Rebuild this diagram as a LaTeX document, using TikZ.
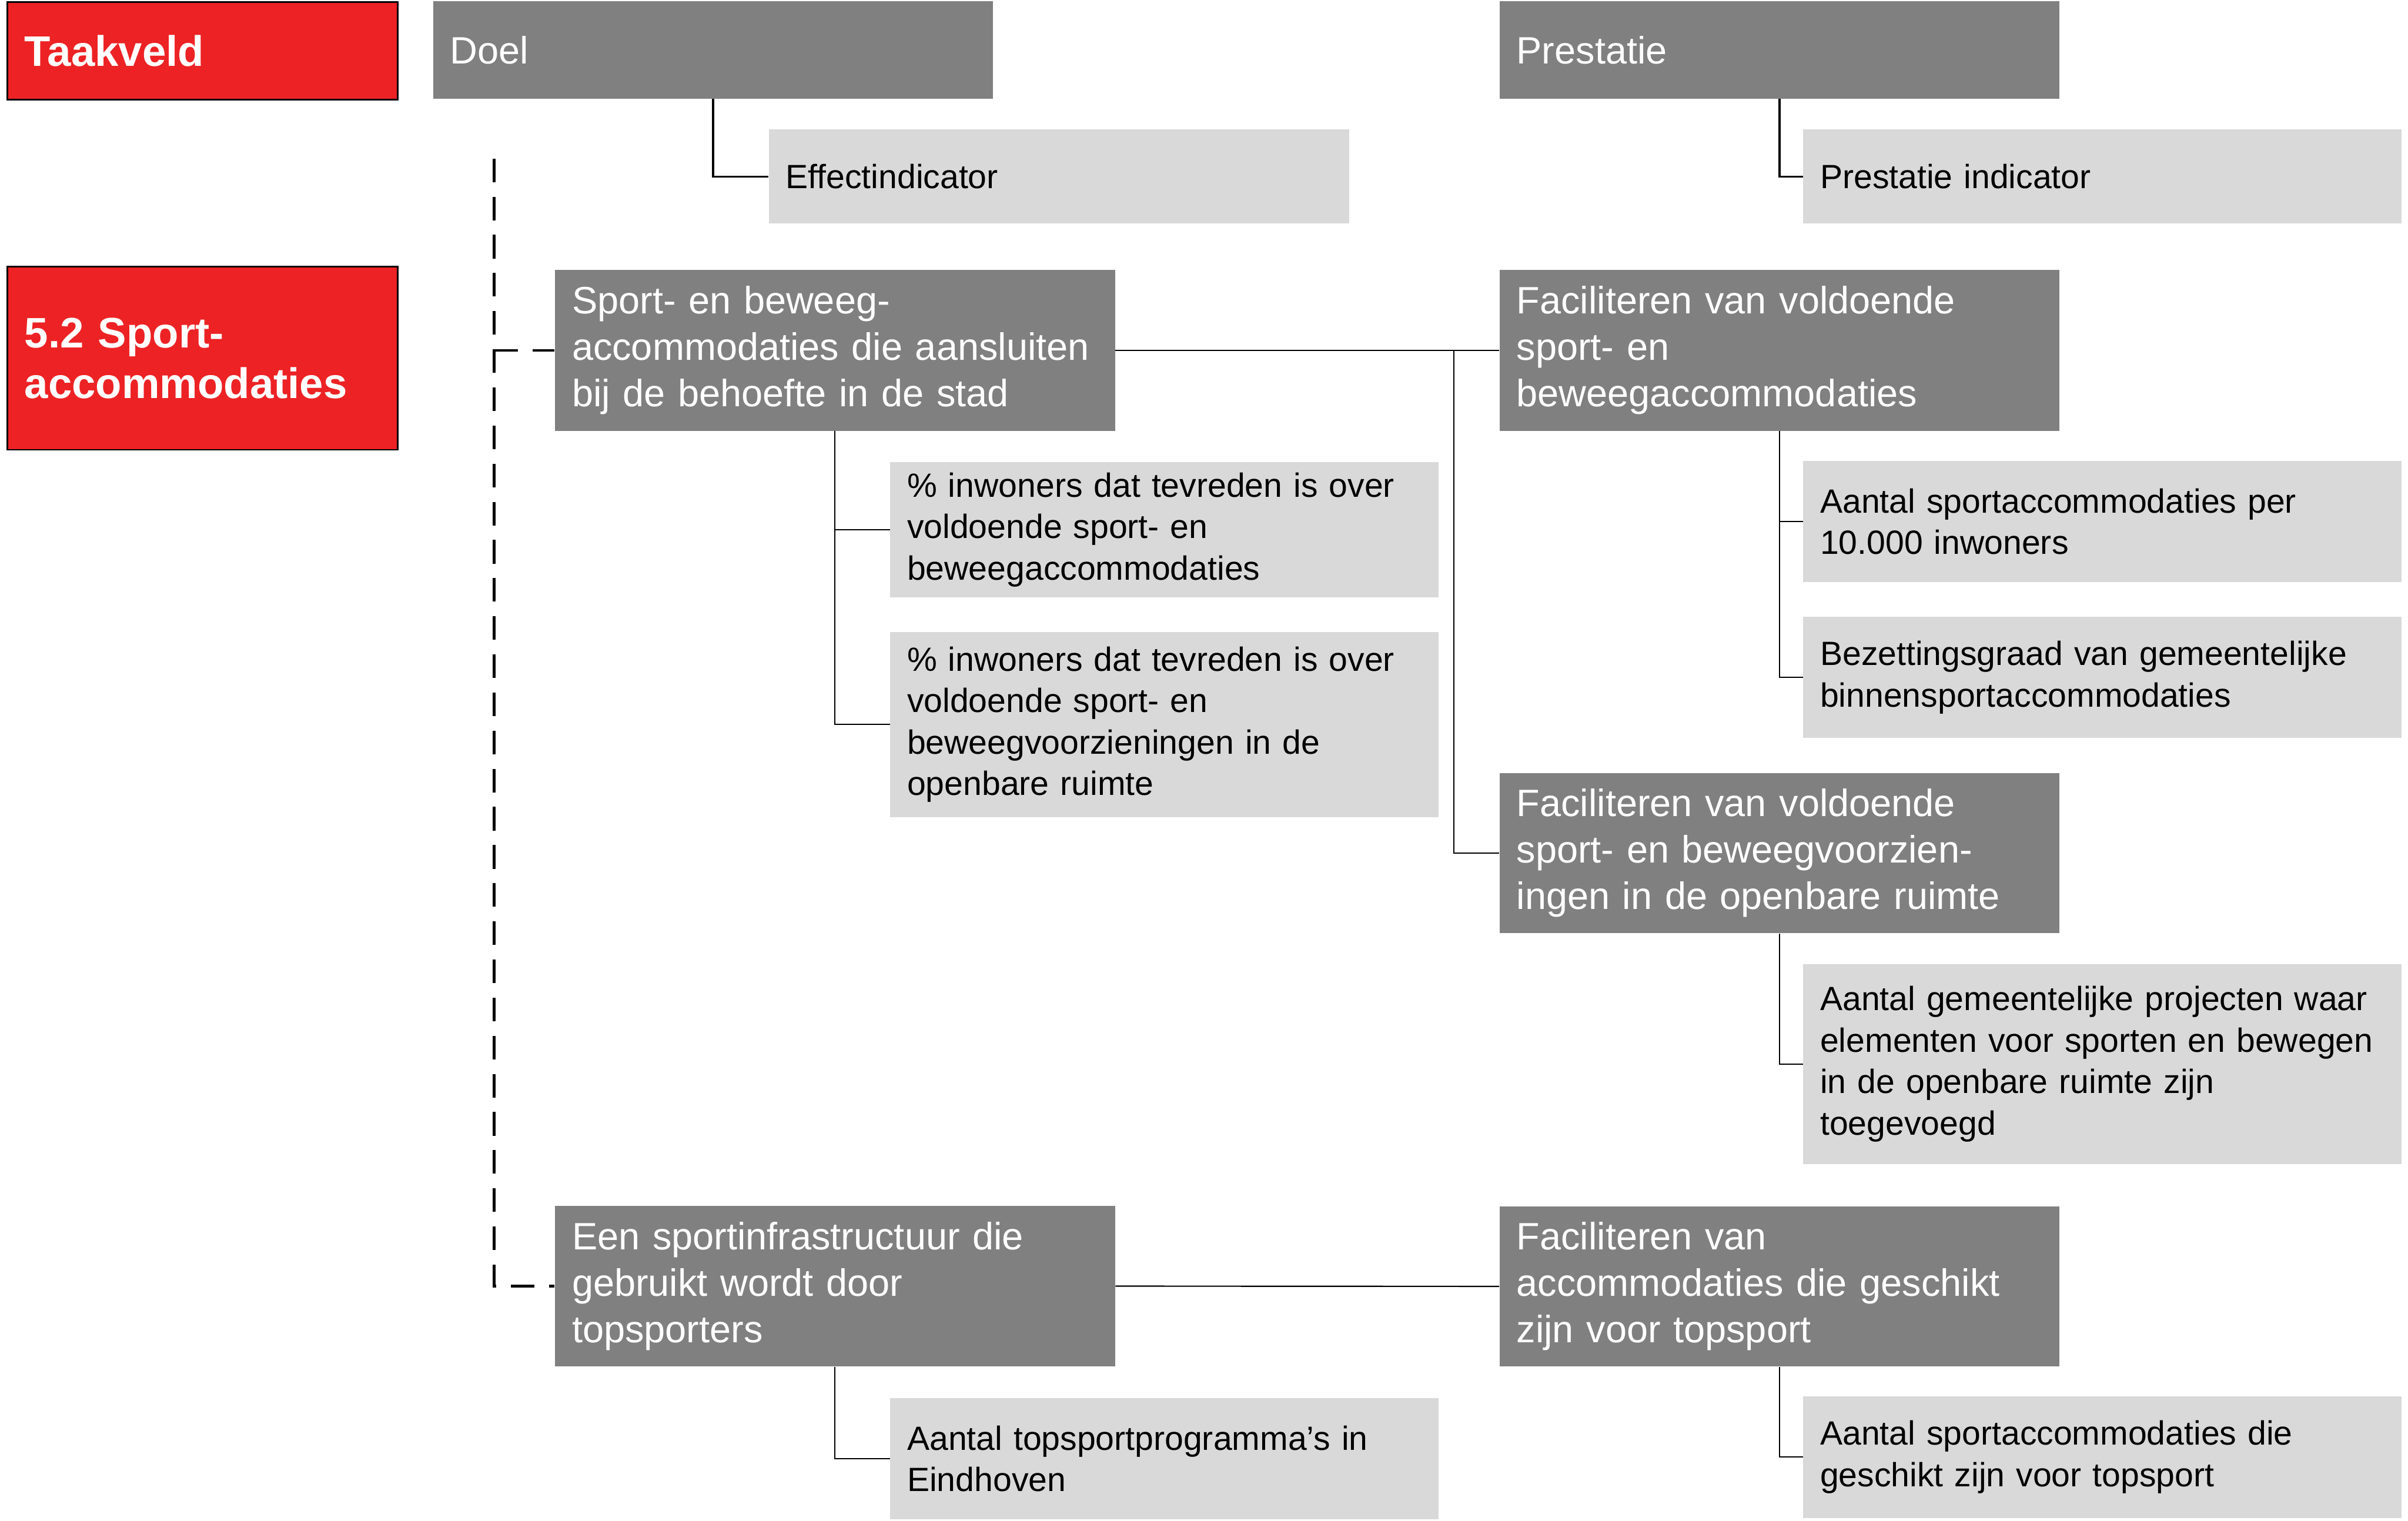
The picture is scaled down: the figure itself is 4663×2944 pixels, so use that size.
\documentclass[tikz,border=0pt]{standalone}
\usepackage{fontspec}
\setmainfont{Liberation Sans}
\definecolor{tvred}{HTML}{ED2224}
\definecolor{doelgrey}{HTML}{808080}
\definecolor{indgrey}{HTML}{D9D9D9}

\begin{document}
\begin{tikzpicture}[x=0.01cm, y=-0.01cm,
  tag/.style={draw=black, line width=0.9pt, fill=tvred, text=white, anchor=north west,
              align=left, inner xsep=0.33cm, text width=6.89cm,
              font=\fontsize{23.5}{28}\selectfont\bfseries},
  goal/.style={fill=doelgrey, text=white, anchor=north west, align=left,
               inner xsep=0.33cm, text width=10.18cm, font=\fontsize{21}{25.6}\selectfont},
  ind/.style={fill=indgrey, text=black, anchor=north west, align=left,
              inner xsep=0.33cm, text width=9.95cm, font=\fontsize{18.5}{22.8}\selectfont},
  pind/.style={ind, text width=10.92cm},
  link/.style={line width=0.7pt},
  toplink/.style={line width=1.1pt},
  dashlink/.style={line width=1.4pt, dash pattern=on 13pt off 8pt}]
  \useasboundingbox (0,0) rectangle (4663,2944);

  \node[tag, minimum height=1.89cm] (tv) at (13,2) {Taakveld};
  \node[tag, minimum height=3.54cm] (sa) at (13,515) {5.2 Sport-\\accommodaties};

  \node[goal, minimum height=1.88cm] (doel) at (838,2) {Doel};
  \node[goal, minimum height=1.88cm] (prest) at (2903,2) {Prestatie};
  \node[ind, text width=10.57cm, minimum height=1.82cm] (effind) at (1488,250) {Effectindicator};
  \node[pind, minimum height=1.82cm] (presind) at (3491,250) {Prestatie indicator};

  \node[goal, minimum height=3.11cm] (goal1) at (1074,522)
    {Sport- en beweeg-\\accommodaties die aansluiten\\bij de behoefte in de stad};
  \node[ind, minimum height=2.62cm] (ind1) at (1723,894)
    {\% inwoners dat tevreden is over\\voldoende sport- en\\beweegaccommodaties};
  \node[ind, minimum height=3.58cm] (ind2) at (1723,1223)
    {\% inwoners dat tevreden is over\\voldoende sport- en\\beweegvoorzieningen in de\\openbare ruimte};

  \node[goal, minimum height=3.11cm] (fac1) at (2903,522)
    {Faciliteren van voldoende\\sport- en\\beweegaccommodaties};
  \node[pind, minimum height=2.34cm] (pind1) at (3491,892)
    {Aantal sportaccommodaties per\\10.000 inwoners};
  \node[pind, minimum height=2.34cm] (pind2) at (3491,1194)
    {Bezettingsgraad van gemeentelijke\\binnensportaccommodaties};

  \node[goal, minimum height=3.10cm] (fac2) at (2903,1496)
    {Faciliteren van voldoende\\sport- en beweegvoorzien-\\ingen in de openbare ruimte};
  \node[pind, minimum height=3.87cm] (pind3) at (3491,1866)
    {Aantal gemeentelijke projecten waar\\elementen voor sporten en bewegen\\in de openbare ruimte zijn\\toegevoegd};

  \node[goal, minimum height=3.11cm] (goal2) at (1074,2334)
    {Een sportinfrastructuur die\\gebruikt wordt door\\topsporters};
  \node[ind, minimum height=2.35cm] (ind3) at (1723,2706)
    {Aantal topsportprogramma's in\\Eindhoven};

  \node[goal, minimum height=3.10cm] (fac3) at (2903,2335)
    {Faciliteren van\\accommodaties die geschikt\\zijn voor topsport};
  \node[pind, minimum height=2.35cm] (pind4) at (3491,2703)
    {Aantal sportaccommodaties die\\geschikt zijn voor topsport};

  \coordinate (dtop) at (957,307);
  \coordinate (split) at (2815,0);

  \draw[toplink] (doel.south) |- (effind.west);
  \draw[toplink] (prest.south) |- (presind.west);
  \draw[link] (goal1.south) |- (ind1.west);
  \draw[link] (goal1.south) |- (ind2.west);
  \draw[link] (goal1.east) -- (fac1.west);
  \draw[link] (split |- goal1.east) |- (fac2.west);
  \draw[link] (fac1.south) |- (pind1.west);
  \draw[link] (fac1.south) |- (pind2.west);
  \draw[link] (fac2.south) |- (pind3.west);
  \draw[link] (goal2.south) |- (ind3.west);
  \draw[link] (goal2.east) -- (fac3.west);
  \draw[link] (fac3.south) |- (pind4.west);
  \draw[dashlink] (dtop) |- (goal2.west);
  \draw[dashlink] (dtop |- goal1.west) -- (goal1.west);
\end{tikzpicture}
\end{document}
